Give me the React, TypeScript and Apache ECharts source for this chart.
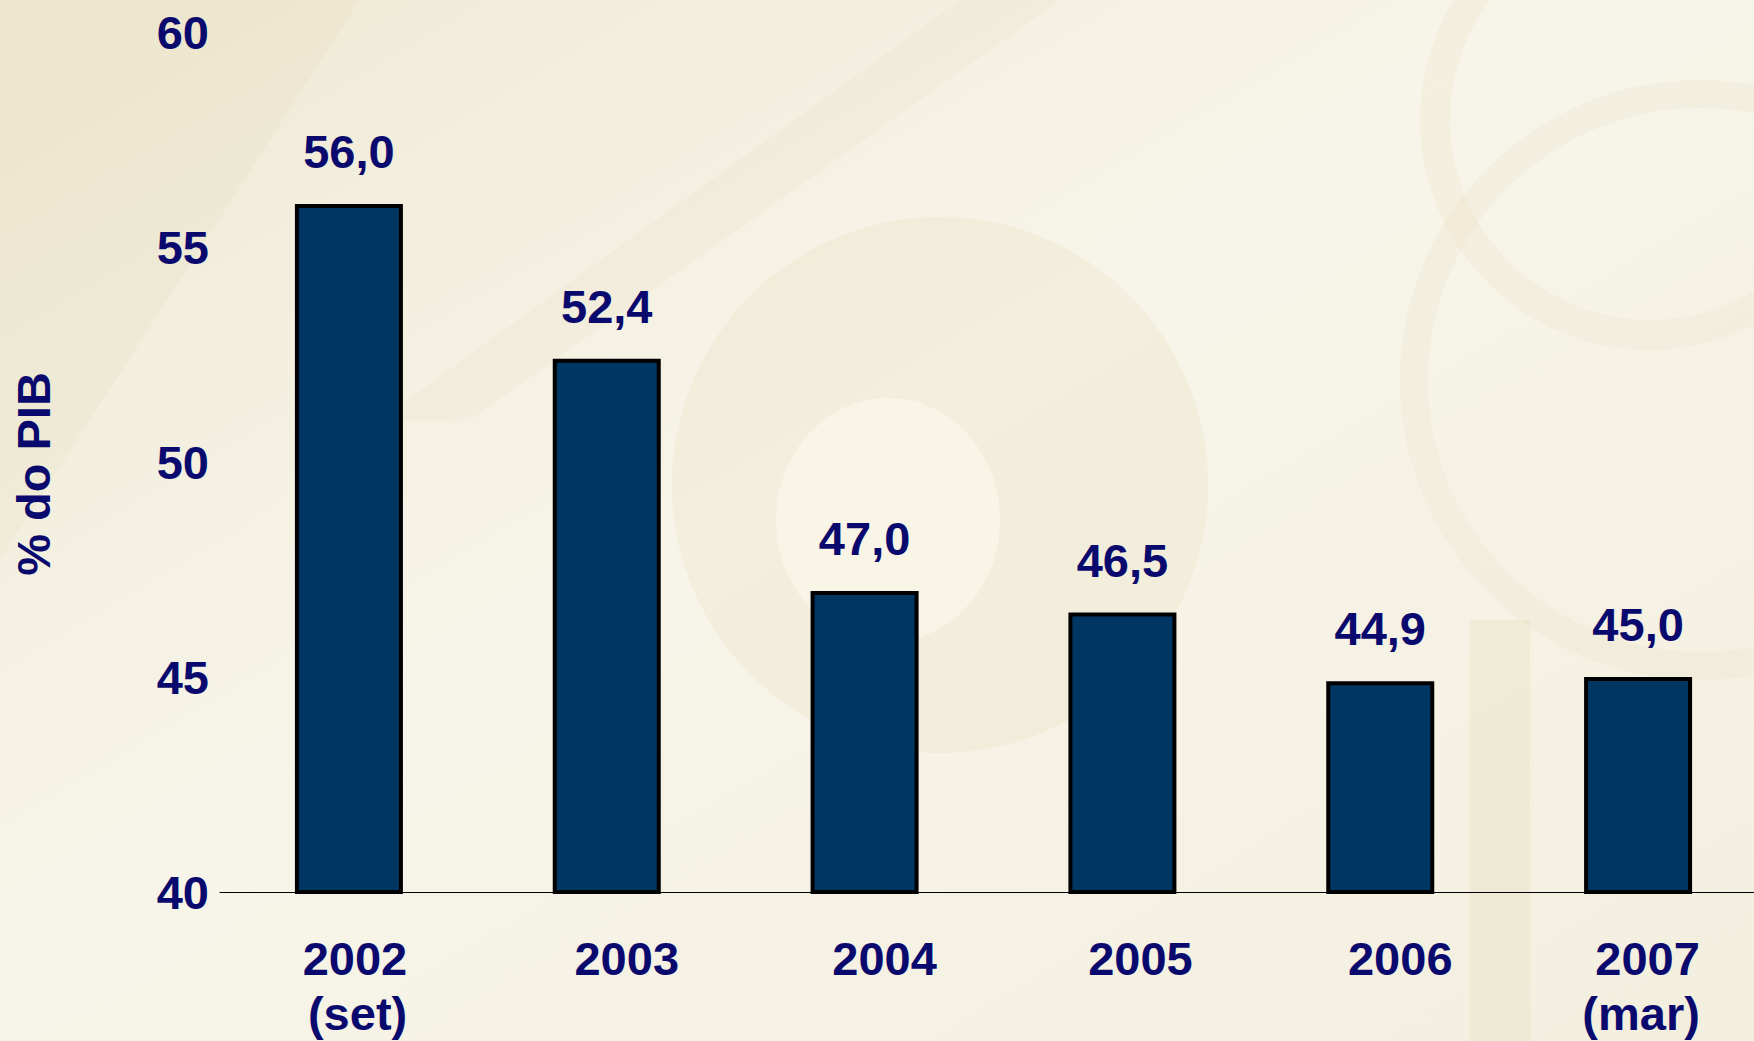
import React, { useEffect, useRef } from 'react';
import * as echarts from 'echarts';

const categories = ['2002\n(set)', '2003', '2004', '2005', '2006', '2007\n(mar)'];
const values = [56.0, 52.4, 47.0, 46.5, 44.9, 45.0];
const yMin = 40;
const yMax = 60;
const yStep = 5;
const yAxisTitle = '% do PIB';

const FONT = '"Liberation Sans", Arial, Helvetica, sans-serif';
const NAVY = '#0a0a6e';

export default function App() {
  const ref = useRef<HTMLDivElement>(null);

  useEffect(() => {
    document.body.style.margin = '0';
    const chart = echarts.init(ref.current as HTMLDivElement, null, { renderer: 'svg' });

    // horizontal nudges of category labels (px), as in the original slide
    const labelShift = [6, 20, 20, 18, 20, 3];

    const textBase = {
      fontSize: 47,
      fontWeight: 'bold',
      fontFamily: FONT,
      color: NAVY,
    };

    chart.setOption({
      animation: false,
      backgroundColor: {
        type: 'linear',
        x: 0,
        y: 0,
        x2: 1,
        y2: 1,
        colorStops: [
          { offset: 0, color: '#efe9d3' },
          { offset: 0.45, color: '#f7f4e9' },
          { offset: 1, color: '#f3efdf' },
        ],
      },
      graphic: [
        {
          type: 'circle',
          z: -10,
          silent: true,
          shape: { cx: 940, cy: 485, r: 268 },
          style: { fill: 'rgba(222,210,160,0.16)' },
        },
        {
          type: 'ellipse',
          z: -9,
          silent: true,
          shape: { cx: 888, cy: 520, rx: 112, ry: 122 },
          style: { fill: 'rgba(255,253,245,0.45)' },
        },
        {
          type: 'ring',
          z: -9,
          silent: true,
          shape: { cx: 1650, cy: 120, r: 230, r0: 200 },
          style: { fill: 'rgba(220,208,160,0.12)' },
        },
        {
          type: 'ring',
          z: -9,
          silent: true,
          shape: { cx: 1700, cy: 380, r: 300, r0: 272 },
          style: { fill: 'rgba(220,208,160,0.1)' },
        },
        {
          type: 'rect',
          z: -9,
          silent: true,
          shape: { x: 1470, y: 620, width: 60, height: 421 },
          style: { fill: 'rgba(222,212,165,0.2)' },
        },
        {
          type: 'polygon',
          z: -9,
          silent: true,
          shape: { points: [[0, 0], [360, 0], [0, 560]] },
          style: { fill: 'rgba(222,212,170,0.14)' },
        },
        {
          type: 'polygon',
          z: -9,
          silent: true,
          shape: { points: [[380, 420], [470, 420], [1060, 0], [960, 0]] },
          style: { fill: 'rgba(225,215,175,0.12)' },
        },
      ],
      grid: {
        left: 220,
        right: -13,
        top: 32,
        bottom: 149,
        containLabel: false,
        outerBoundsMode: 'none',
      },
      xAxis: {
        type: 'category',
        data: categories.map((c, i) => ({
          value: c,
          textStyle: { padding: [0, 0, 0, 2 * labelShift[i]] },
        })),
        axisLine: { show: true, lineStyle: { color: '#000000', width: 1 } },
        axisTick: { show: false },
        splitLine: { show: false },
        axisLabel: {
          interval: 0,
          margin: 39,
          formatter: (v: string) =>
            v
              .split('\n')
              .map((s) => `{t|${s}}`)
              .join('\n'),
          rich: {
            t: { ...textBase, align: 'right', lineHeight: 55 },
          },
        },
      },
      yAxis: {
        type: 'value',
        min: yMin,
        max: yMax,
        interval: yStep,
        axisLine: { show: false },
        axisTick: { show: false },
        splitLine: { show: false },
        axisLabel: { ...textBase, margin: 11 },
        name: yAxisTitle,
        nameLocation: 'middle',
        nameRotate: 90,
        nameGap: 163,
        nameTextStyle: { ...textBase, padding: [0, 24, 0, 0] },
      },
      series: [
        {
          type: 'bar',
          data: values,
          barWidth: 108,
          itemStyle: { color: '#003662', borderColor: '#000000', borderWidth: 4 },
          label: {
            show: true,
            position: 'top',
            distance: 29,
            ...textBase,
            formatter: (p: any) => Number(p.value).toFixed(1).replace('.', ','),
          },
        },
      ],
    });

    return () => chart.dispose();
  }, []);

  return <div ref={ref} style={{ width: 1754, height: 1041 }} />;
}
